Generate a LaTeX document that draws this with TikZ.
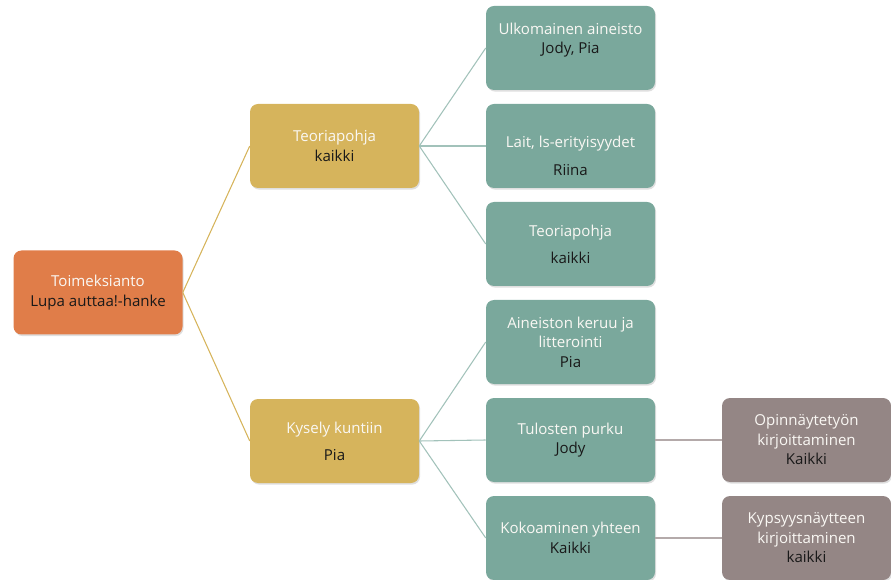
\documentclass[tikz,border=0pt]{standalone}
\usepackage{fontspec}
\setmainfont{Open Sans}
\usepackage{tikz}
\usetikzlibrary{shadows}
\definecolor{oranssi}{RGB}{224,125,73}
\definecolor{kulta}{RGB}{214,180,92}
\definecolor{turkoosi}{RGB}{122,168,156}
\definecolor{harmaa}{RGB}{148,134,133}
\definecolor{tumma}{RGB}{25,25,25}
\definecolor{vaalea}{RGB}{250,248,244}

\begin{document}
\begin{tikzpicture}[x=0.75pt,y=-0.75pt,
	laatikko/.style={rounded corners=6pt, minimum width=126.75pt, minimum height=63pt, inner sep=1pt, align=center, text=tumma,
		font=\fontsize{11.3}{14.6}\selectfont, drop shadow={shadow xshift=0.8pt, shadow yshift=-1.2pt, opacity=0.25}},
	juuri/.style={laatikko, fill=oranssi},
	taso1/.style={laatikko, fill=kulta},
	taso2/.style={laatikko, fill=turkoosi},
	taso3/.style={laatikko, fill=harmaa},
	viiva/.style={line width=0.8pt}]
				\useasboundingbox (0,0) rectangle (891,580);
				% juuri
				\node[juuri] (j) at (98,292.5) {\textcolor{vaalea}{Toimeksianto}\\Lupa auttaa!-hanke};
				% taso 1
				\node[taso1] (t) at (334.5,146) {\textcolor{vaalea}{Teoriapohja}\\kaikki};
				\node[taso1] (k) at (334.5,441) {\textcolor{vaalea}{Kysely kuntiin}\\[5.8pt]Pia};
				% taso 2
				\node[taso2] (u) at (570.5,48) {\textcolor{vaalea}{Ulkomainen aineisto}\\Jody, Pia\\~};
				\node[taso2] (l) at (570.5,146) {\mbox{}\\[9pt]\textcolor{vaalea}{Lait, ls-erityisyydet}\\[6.5pt]Riina};
				\node[taso2] (t2) at (570.5,244) {\textcolor{vaalea}{Teoriapohja}\\[5.8pt]kaikki};
				\node[taso2] (a) at (570.5,342) {\textcolor{vaalea}{Aineiston keruu ja}\\\textcolor{vaalea}{litterointi}\\Pia};
				\node[taso2] (p) at (570.5,440) {\textcolor{vaalea}{Tulosten purku}\\Jody};
				\node[taso2] (y) at (570.5,538) {\textcolor{vaalea}{Kokoaminen yhteen}\\Kaikki};
				% taso 3
				\node[taso3] (o) at (806.5,440) {\textcolor{vaalea}{Opinnäytetyön}\\\textcolor{vaalea}{kirjoittaminen}\\Kaikki};
				\node[taso3] (m) at (806.5,538) {\textcolor{vaalea}{Kypsyysnäytteen}\\\textcolor{vaalea}{kirjoittaminen}\\kaikki};
				% viivat
				\draw[viiva, kulta] (j.east) -- (t.west);
				\draw[viiva, kulta] (j.east) -- (k.west);
				\draw[viiva, turkoosi!70] (t.east) -- (u.west);
				\draw[viiva, turkoosi!70] (t.east) -- (l.west);
				\draw[viiva, turkoosi!70] (t.east) -- (t2.west);
				\draw[viiva, turkoosi!70] (k.east) -- (a.west);
				\draw[viiva, turkoosi!70] (k.east) -- (p.west);
				\draw[viiva, turkoosi!70] (k.east) -- (y.west);
				\draw[viiva, harmaa!70] (p.east) -- (o.west);
				\draw[viiva, harmaa!70] (y.east) -- (m.west);
\end{tikzpicture}
\end{document}
